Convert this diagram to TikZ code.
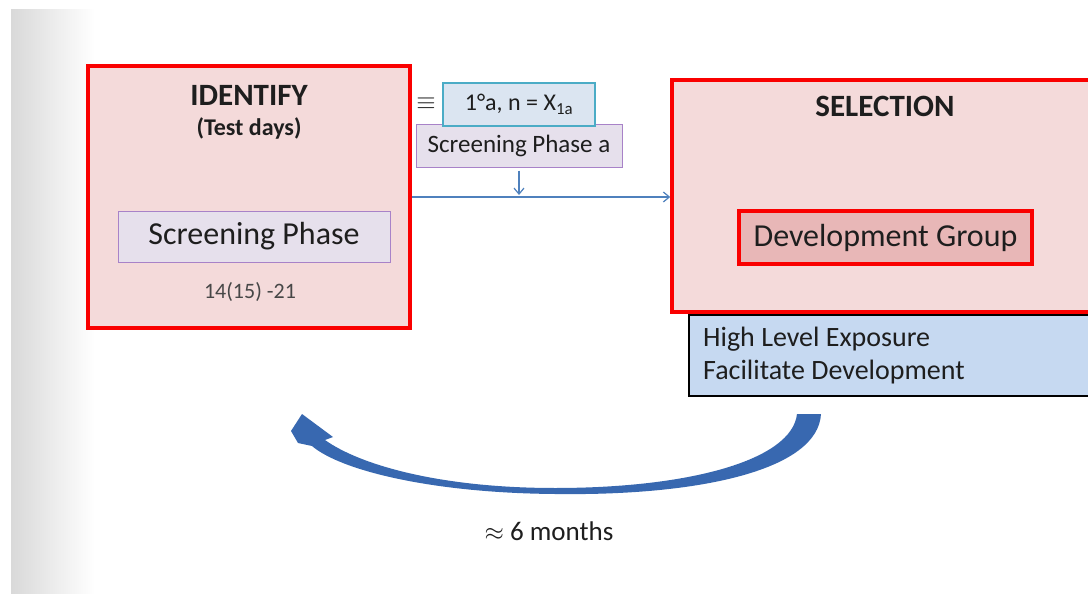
\documentclass[tikz,border=0pt]{standalone}
\usepackage{fontspec}
\setmainfont{Carlito}
\usetikzlibrary{arrows.meta}
\definecolor{boxred}{RGB}{250,0,0}
\definecolor{pinkfill}{RGB}{244,218,218}
\definecolor{lavfill}{RGB}{230,224,236}
\definecolor{lavline}{RGB}{168,130,200}
\definecolor{bluefill}{RGB}{219,229,241}
\definecolor{cyanline}{RGB}{75,172,198}
\definecolor{devfill}{RGB}{232,183,183}
\definecolor{lowfill}{RGB}{198,217,241}
\definecolor{arrowblue}{RGB}{79,129,189}
\definecolor{curveblue}{RGB}{56,104,176}
\definecolor{txt}{RGB}{30,30,30}
\tikzset{
  bigbox/.style={draw=boxred, line width=3.5pt, fill=pinkfill, minimum width=#1},
  lavbox/.style={draw=lavline, line width=1pt, fill=lavfill, text=txt},
  fs/.style={font=\fontsize{#1}{#1}\selectfont},
  fsb/.style={font=\fontsize{#1}{#1}\selectfont\bfseries},
  lbl/.style={text=txt, inner sep=0pt},
}
\begin{document}
\begin{tikzpicture}[x=1pt,y=-1pt]
\useasboundingbox (0,0) rectangle (1088,594);
\fill[white] (0,0) rectangle (1088,594);
\shade[left color=gray!30,right color=white] (11,10) rectangle (95,594);

% lower blue box
\node[draw=black, line width=2.5pt, fill=lowfill, minimum width=411pt, minimum height=81pt] (low) at (894.5,355.5) {};
\node[lbl, fs=28, anchor=west] (hle) at (703,339) {High Level Exposure};
\node[lbl, fs=28, anchor=west] (fd) at (703,372) {Facilitate Development};

% left box
\node[bigbox=322pt, minimum height=262pt] (identify) at (249,197) {};
\node[lbl, fsb=31] (idt) at (249,95) {IDENTIFY};
\node[lbl, fsb=24] (td) at (249,128) {(Test days)};
\node[lavbox, fs=32, minimum width=272pt, minimum height=51pt] (screen) at (254,236.5) {Screening Phase};
\node[lbl, fs=22, text=black!72] (days) at (250,292) {14(15) -21};

% right box
\node[bigbox=428pt, minimum height=232pt] (selection) at (886,196) {};
\node[lbl, fsb=31] (sel) at (885,106) {SELECTION};
\node[draw=boxred, line width=3.5pt, fill=devfill, text=txt, fs=32, minimum width=293pt, minimum height=53pt] (dev) at (885.5,237.5) {Development Group};

% middle boxes
\node[lavbox, fs=25, minimum width=206pt, minimum height=43pt] (spa) at (519,145.5) {Screening Phase a};
\node[draw=cyanline, line width=1.3pt, fill=bluefill, text=txt, fs=24, minimum width=152pt, minimum height=43pt] (onea) at (519,104.5) {1°a, n = X\textsubscript{1a}};
\node[lbl, fs=24] (eq) at (426,104) {$\equiv$};

% connectors
\coordinate (dn) at (519,195);
\draw[arrowblue, line width=1.2pt, -{Straight Barb[length=6pt,width=10pt]}] (identify.east) -- (identify.east -| selection.west);
\draw[arrowblue, line width=1.2pt, -{Straight Barb[length=6pt,width=10pt]}] ([yshift=-3pt]spa.south) -- (dn);

% curved arrow
\fill[curveblue] (821,414) .. controls (818,470) and (700,496) .. (555,494)
  .. controls (430,493) and (340,470) .. (312,446) -- (298,443) -- (291,431) -- (302,414)
  -- (333,437) -- (325,440) .. controls (360,465) and (440,488) .. (555,488)
  .. controls (690,488) and (792,460) .. (797,414) -- cycle;
\node[lbl, fs=27] (months) at (549,531) {$\approx$ 6 months};
\end{tikzpicture}
\end{document}
